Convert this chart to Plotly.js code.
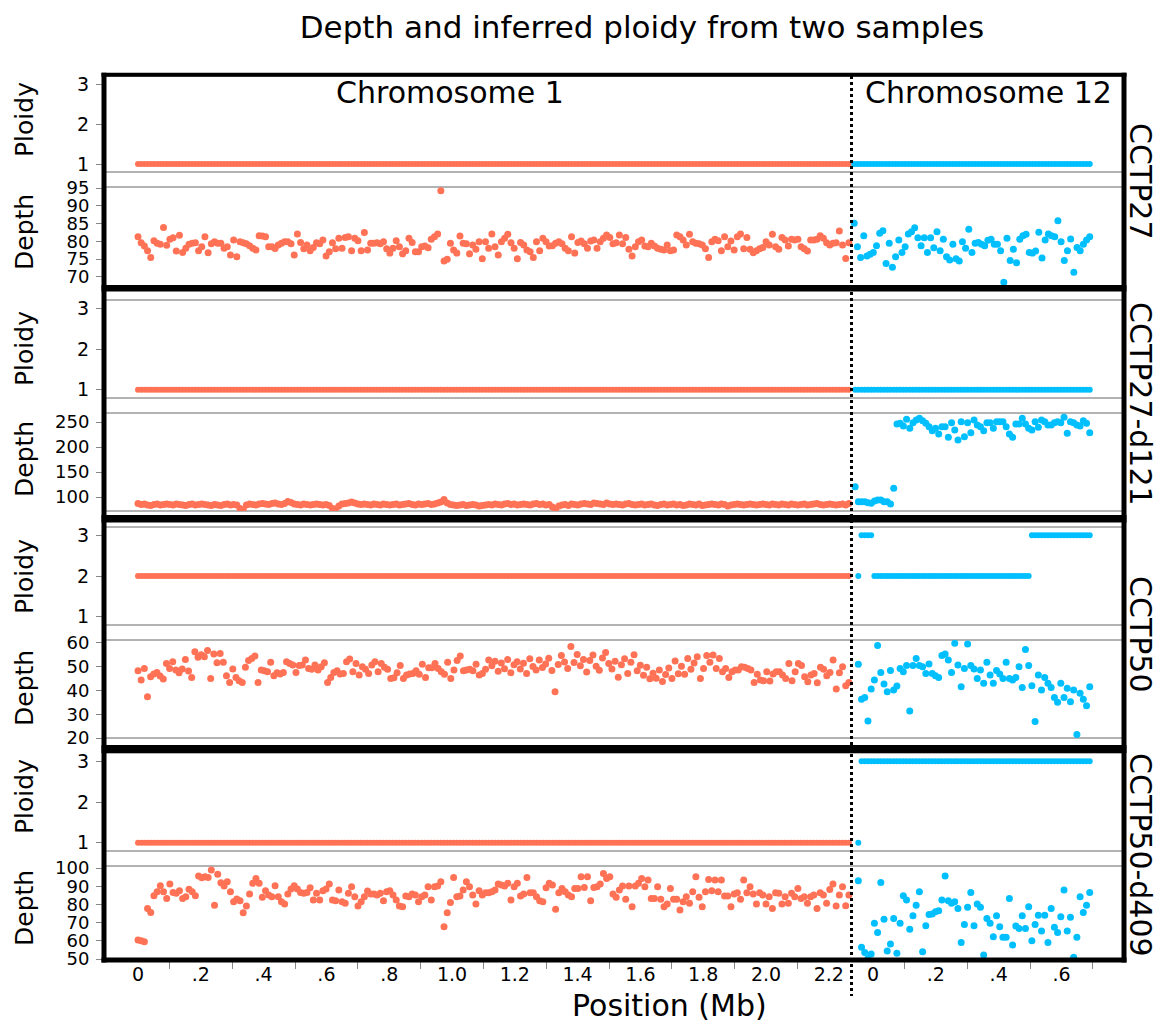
<!DOCTYPE html>
<html><head><meta charset="utf-8">
<script src="https://cdn.plot.ly/plotly-3.0.1.min.js"></script>
<style>html,body{margin:0;padding:0;background:#fff}#chart{width:1164px;height:1024px}</style>
</head><body><div id="chart"></div>
<script>
// ---------------- data ----------------
const samples = ['CCTP27', 'CCTP27-d121', 'CCTP50', 'CCTP50-d409'];

// chromosome 1 bins (Mb) : first and last bin centre
const chr1First = 0.0, chr1Last = 2.264;
// chromosome 12 bins, relative to chromosome-12 zero tick
const chr12Zero = 2.341;            // where "0" of chr12 sits on the shared axis
const chr12First = [-0.060, -0.057, -0.047, -0.047];
const chr12Last = 0.690;

const chr1TickVals = [0, 0.2, 0.4, 0.6, 0.8, 1.0, 1.2, 1.4, 1.6, 1.8, 2.0, 2.2];
const chr1TickText = ['0', '.2', '.4', '.6', '.8', '1.0', '1.2', '1.4', '1.6', '1.8', '2.0', '2.2'];
const chr12TickVals = [0, 0.2, 0.4, 0.6];
const chr12TickText = ['0', '.2', '.4', '.6'];
const chr1MinorTicks = [0.1, 0.3, 0.5, 0.7, 0.9, 1.1, 1.3, 1.5, 1.7, 1.9, 2.1];
const chr12MinorTicks = [0.1, 0.3, 0.5, 0.7];

const ploidyTicks = [1, 2, 3];
const depthTicks = [
  [70, 75, 80, 85, 90, 95],
  [100, 150, 200, 250],
  [20, 30, 40, 50, 60],
  [50, 60, 70, 80, 90, 100]
];

// ploidy as runs: [count, value]; count null = rest of the bins
const chr1PloidyRuns = [[[null, 1]], [[null, 1]], [[null, 2]], [[null, 1]]];
const chr12PloidyRuns = [[[null, 1]], [[null, 1]], [[1, 2], [4, 3], [49, 2], [null, 3]], [[1, 1], [null, 3]]];

const depthChr1_CCTP27 = [
81.3,79.6,78.7,77.4,75.5,80.2,79.5,79.2,83.9,78.9,
80.6,81.0,77.3,81.7,76.9,78.1,79.2,79.5,79.6,77.4,
78.5,81.3,76.8,79.3,79.9,79.5,79.5,78.1,78.5,76.2,
80.4,75.7,79.9,79.6,79.3,78.8,78.1,77.6,81.6,81.5,
81.3,78.5,78.5,78.0,79.0,79.5,79.9,79.9,79.3,76.2,
82.1,79.7,77.9,79.0,77.4,78.3,79.6,79.3,80.4,75.9,
77.1,79.6,77.9,80.9,78.1,81.1,81.3,77.4,80.9,80.2,
77.4,82.5,77.6,79.5,79.5,79.6,79.3,79.9,77.9,76.7,
78.1,80.2,78.5,76.5,77.4,80.9,79.7,77.1,77.1,78.5,
78.7,78.2,80.6,81.3,82.1,94.2,74.5,75.0,79.5,77.6,
76.7,81.5,79.5,79.3,76.5,79.0,77.8,79.9,75.1,79.9,
78.1,82.1,78.5,
76.2,79.9,80.9,82.0,79.6,78.1,75.1,79.7,79.0,77.6,
77.1,75.5,79.9,77.4,80.9,79.9,78.7,78.8,79.5,79.9,
79.3,78.1,77.4,81.3,76.7,79.7,80.1,79.3,78.1,80.1,
80.4,78.1,79.9,80.9,81.8,81.1,79.3,79.6,81.8,79.3,
81.1,77.8,75.9,78.5,79.9,80.4,78.7,78.5,79.5,78.7,
78.1,77.8,77.6,79.0,77.4,77.6,81.8,81.3,80.4,79.0,
82.0,79.9,79.5,79.3,79.0,77.9,75.5,79.9,80.6,80.2,
77.4,81.3,78.5,80.1,77.6,81.3,82.1,77.9,81.1,77.8,
76.8,77.4,77.9,78.3,79.9,79.0,82.0,78.5,77.8,81.1,
80.4,78.7,80.6,80.4,80.6,78.5,77.9,77.3,80.4,80.4,
80.6,81.6,80.9,79.6,79.0,79.5,79.6,82.9,79.0,75.2,
79.6];
const depthChr12_CCTP27 = [
85.1,78.5,75.5,81.6,75.9,76.4,76.9,78.8,82.3,83.0,
73.8,79.5,72.7,75.7,80.4,76.9,78.5,82.1,82.7,83.8,
81.0,78.8,81.0,76.9,81.0,78.2,82.7,77.4,80.6,75.7,
74.8,79.2,75.1,74.5,79.9,78.1,83.4,76.9,79.5,79.7,
79.2,78.8,80.3,80.6,79.2,79.2,77.4,68.5,80.9,74.6,
77.8,74.0,80.6,81.6,82.0,76.9,76.7,77.3,82.6,75.3,
80.4,82.1,81.6,81.3,85.8,79.9,74.6,77.4,80.7,71.3,
78.3,77.4,79.2,80.4,81.3];

const depthChr1_CCTP27d121 = [
87,85,86,84,83,85,86,84,85,86,
85,84,86,85,84,83,85,86,84,85,
86,85,84,83,85,84,83,85,86,84,
85,84,77,75,84,86,85,84,86,87,
86,85,87,88,86,85,87,91,89,86,
85,84,86,85,84,85,86,85,84,85,
83,77,76,82,86,87,88,90,88,86,
85,86,85,84,86,85,84,86,85,84,
85,86,84,85,86,87,85,84,86,85,
86,87,85,86,88,90,95,88,85,84,
83,84,85,83,84,85,84,82,83,84,
85,84,86,85,84,86,87,85,86,84,
85,86,85,84,86,87,85,86,84,85,
80,76,82,84,85,83,86,85,84,86,
87,86,85,88,87,86,85,88,86,85,
86,85,84,86,87,85,84,85,86,84,
85,86,84,83,85,86,84,85,86,84,
85,83,84,86,85,84,86,83,84,85,
86,85,84,86,85,82,84,85,86,85,
84,85,86,85,84,85,86,85,84,86,
85,84,86,85,84,86,85,84,85,86,
84,85,86,87,85,84,85,86,85,84,
85,86,84,87];
const depthChr12_CCTP27d121 = [
120.7,90.7,90.7,90.7,88.7,87.3,92.0,94.0,94.0,90.7,90.7,86.0,117.3,
246.0,247.3,242.0,255.3,237.3,248.7,254.0,257.3,252.7,247.3,
240.7,232.7,237.3,226.0,240.7,240.7,219.3,248.7,234.0,214.0,
250.7,220.7,248.7,228.7,254.0,244.0,240.7,232.7,248.7,248.7,
237.3,250.7,250.7,250.7,240.7,226.0,219.3,246.0,246.0,257.3,
246.0,237.3,234.0,250.7,239.3,254.0,250.7,244.0,244.0,248.7,
250.7,248.7,259.3,227.3,250.7,248.7,244.0,242.0,252.7,247.3,228.7];

const depthChr1_CCTP50 = [
48.3,44.4,49.3,37.4,45.8,46.9,47.6,46.1,44.8,51.4,
49.3,52.1,48.6,47.5,49.0,53.1,48.2,45.5,56.3,54.0,
55.0,54.2,56.8,45.1,55.4,51.7,55.6,51.9,46.2,43.4,
49.0,45.5,44.1,43.4,49.8,52.6,53.5,54.5,43.4,48.6,
48.3,47.9,51.9,46.2,47.5,46.9,47.6,52.1,51.4,50.7,
47.6,50.5,50.7,52.8,49.3,48.9,50.7,48.6,50.0,51.7,
43.4,45.5,47.6,48.3,46.9,47.2,52.1,53.3,47.9,51.4,
46.5,50.0,48.9,47.2,50.7,52.1,47.9,51.4,49.8,48.9,
45.1,45.4,47.5,50.5,45.1,46.5,46.9,47.2,48.3,46.8,
51.0,45.5,49.6,49.6,51.4,49.3,47.9,46.8,51.9,45.1,
48.6,52.6,54.5,48.3,48.6,48.9,48.3,51.0,46.5,47.2,
48.9,52.8,
50.4,52.3,48.1,51.6,49.2,53.0,47.5,50.8,52.1,49.0,
51.5,47.2,53.4,50.1,48.6,52.8,49.7,51.2,53.6,48.4,
39.5,50.9,54.7,52.0,49.3,58.5,51.8,55.2,50.4,53.1,
47.8,52.6,54.9,50.2,48.5,53.7,56.0,51.4,49.0,52.3,
45.6,50.8,53.4,47.2,51.9,55.1,48.3,50.6,46.4,49.8,
44.9,47.3,45.2,48.6,43.8,46.7,49.5,45.0,52.4,47.1,
50.2,46.8,53.5,48.9,51.6,
54.2,45.1,49.3,54.7,51.9,54.9,49.3,53.5,47.9,49.3,
45.5,47.9,48.6,48.6,50.0,49.8,49.3,48.6,43.4,46.8,
44.4,44.1,47.9,44.0,46.9,47.9,47.9,46.5,45.1,51.4,
44.1,47.9,51.4,50.5,45.8,43.7,46.5,47.2,43.3,49.8,
48.9,46.2,47.6,52.8,40.6,47.5,50.0,42.0,43.4];
const depthChr12_CCTP50 = [
51.0,36.3,37.1,27.2,40.6,44.4,58.9,47.6,42.7,39.5,
48.4,40.2,41.9,49.3,47.9,50.5,31.4,50.5,53.5,50.5,
50.0,47.2,51.2,47.2,46.2,45.5,54.7,55.4,52.8,47.6,
59.9,50.7,41.6,49.3,59.6,50.5,49.1,45.1,48.6,43.0,
51.9,46.5,43.0,48.4,46.9,45.1,51.9,45.1,44.4,45.5,
50.0,41.3,57.3,50.5,42.0,26.9,46.5,40.2,45.5,43.0,
41.3,37.1,35.0,43.0,37.0,40.9,35.3,40.2,21.5,38.8,
36.3,33.6,41.6];

const depthChr1_CCTP50d409 = [
60.4,60.0,59.5,77.8,75.6,84.8,87.0,90.3,87.0,83.3,
91.2,86.6,86.1,87.5,83.3,84.2,88.3,87.0,84.8,95.6,
94.7,95.2,94.8,98.9,79.6,96.5,91.9,90.1,92.5,87.0,
81.5,83.0,82.0,75.4,79.1,85.7,91.6,94.3,91.6,83.9,
87.5,85.1,84.2,90.3,84.2,81.5,80.2,85.7,88.4,90.3,
88.4,86.6,86.1,86.6,89.2,82.4,86.1,82.4,87.5,88.4,
91.2,82.4,82.0,87.9,81.5,80.6,86.1,89.7,84.2,79.1,
81.5,84.2,87.3,85.7,85.7,85.1,86.1,82.0,87.0,87.5,
85.1,82.4,79.1,
78.7,84.6,84.2,85.7,85.1,81.5,84.2,85.1,89.7,82.4,
89.7,90.1,92.5,67.7,75.4,81.1,94.8,84.2,84.6,87.9,
92.5,89.7,85.1,80.2,87.5,85.1,86.4,86.4,87.0,87.9,
91.2,90.6,90.1,91.6,82.4,89.7,91.6,84.6,85.7,94.8,
86.4,86.4,84.2,82.0,81.5,89.2,91.6,90.6,77.3,86.4,
88.8,87.0,85.1,84.2,88.8,88.8,95.2,89.3,95.2,82.0,
89.3,89.7,91.2,97.0,94.3,95.2,85.7,83.9,87.9,90.1,
82.8,90.1,78.7,90.1,91.6,94.3,89.7,93.4,83.3,83.3,
89.7,82.8,78.7,80.2,88.8,82.8,82.8,76.9,81.5,84.2,
80.6,87.0,95.2,83.9,78.7,87.0,93.7,87.5,93.4,87.0,
93.4,84.6,84.6,78.7,85.7,86.4,82.8,93.4,86.4,89.7,
85.7,80.2,86.4,85.1,80.2,84.2,77.8,86.4,
86.1,80.2,84.2,80.6,86.1,84.2,88.8,83.3,84.2,80.6,
84.2,85.1,77.8,86.4,85.1,80.6,88.2,91.2,79.1,85.1,
89.7,79.3,85.1];
const depthChr12_CCTP50d409 = [
93.0,56.4,53.6,50.3,52.7,69.6,64.6,92.1,71.8,54.4,
58.2,72.3,53.1,69.6,84.8,82.4,66.3,73.8,79.6,87.0,
54.0,68.3,74.5,74.7,76.0,76.5,82.4,95.6,82.0,80.6,
81.5,77.8,59.1,69.0,78.4,86.6,68.3,80.2,78.4,52.2,
72.3,69.6,62.2,73.8,67.7,61.9,61.9,83.3,57.7,68.1,
66.8,73.8,66.8,78.7,60.0,69.0,74.1,65.4,74.1,59.1,
77.8,67.4,64.6,73.2,87.9,65.4,72.9,50.9,61.9,84.2,
75.6,79.6,86.6];

const depthChr1 = [depthChr1_CCTP27, depthChr1_CCTP27d121, depthChr1_CCTP50, depthChr1_CCTP50d409];
const depthChr12 = [depthChr12_CCTP27, depthChr12_CCTP27d121, depthChr12_CCTP50, depthChr12_CCTP50d409];

// ---------------- layout geometry (pixels) ----------------
const W = 1164, H = 1024;
const plotLeft = 104, plotRight = 1124;
const pxPerMb = 314, px0 = 138;
const ploidyBox = [[76, 172], [300, 398], [527, 625], [753, 851]];
const depthBox = [[187, 288], [413, 511], [640, 738], [866, 960]];
const ploidyRange = [0.8, 3.2];
const depthRange = [[66.9, 95.28], [72, 268], [20, 61.26], [49.45, 101.1]];
const panelEdges = [[74.7, 4], [288.3, 6.5], [518.8, 7.5], [749, 8], [960, 5]];

const RED = '#FF7256', BLUE = '#00BFFF';
const FONT = 'DejaVu Sans';

const px2x = p => p / W;
const px2y = p => 1 - p / H;
const mbOfPx = p => (p - px0) / pxPerMb;

function linspace(a, b, n) {
  const out = [];
  for (let i = 0; i < n; i++) out.push(n === 1 ? a : a + (b - a) * i / (n - 1));
  return out;
}
function expandRuns(runs, n) {
  const out = [];
  let used = 0;
  runs.forEach(r => used += (r[0] === null ? 0 : r[0]));
  runs.forEach(([c, v]) => {
    const cnt = c === null ? n - used : c;
    for (let i = 0; i < cnt; i++) out.push(v);
  });
  return out;
}

const traces = [];
const layout = {
  width: W, height: H,
  margin: {l: 0, r: 0, t: 0, b: 0},
  paper_bgcolor: '#fff', plot_bgcolor: '#fff',
  showlegend: false,
  font: {family: FONT, color: '#000'},
  title: {text: 'Depth and inferred ploidy from two samples', font: {family: FONT, size: 31, color: '#000'},
          x: 642 / W, xanchor: 'center', y: 1 - 27 / H, yanchor: 'middle'},
  shapes: [], annotations: []
};

layout.xaxis = {
  domain: [px2x(plotLeft), px2x(plotRight)],
  range: [mbOfPx(plotLeft), mbOfPx(plotRight)],
  anchor: 'y8',
  showgrid: false, zeroline: false,
  showline: true, linecolor: '#888', linewidth: 1,
  tickmode: 'array',
  tickvals: chr1TickVals.concat(chr12TickVals.map(v => v + chr12Zero)),
  ticktext: chr1TickText.concat(chr12TickText),
  ticks: 'outside', ticklen: 1, tickcolor: 'rgba(0,0,0,0)',
  ticklabelstandoff: -4,
  tickfont: {family: FONT, size: 19, color: '#000'},
  minor: {tickmode: 'array', tickvals: chr1MinorTicks.concat(chr12MinorTicks.map(v => v + chr12Zero)),
          ticks: 'outside', ticklen: 8, tickcolor: '#888', tickwidth: 1, showgrid: false},
  fixedrange: true
};

for (let k = 0; k < 4; k++) {
  const yp = 2 * k + 1, yd = 2 * k + 2;
  const n1 = depthChr1[k].length, n12 = depthChr12[k].length;
  const x1 = linspace(chr1First, chr1Last, n1);
  const x12 = linspace(chr12First[k], chr12Last, n12).map(v => v + chr12Zero);

  const yaxBase = {anchor: 'x', showgrid: false, zeroline: false, showline: false,
    ticks: 'outside', ticklen: 7, tickcolor: '#888', tickwidth: 1,
    tickfont: {family: FONT, size: 19, color: '#000'}, tickmode: 'array', fixedrange: true,
    ticklabelstandoff: 3};
  layout['yaxis' + yp] = Object.assign({}, yaxBase, {
    domain: [px2y(ploidyBox[k][1]), px2y(ploidyBox[k][0])], range: ploidyRange, tickvals: ploidyTicks});
  layout['yaxis' + yd] = Object.assign({}, yaxBase, {
    domain: [px2y(depthBox[k][1]), px2y(depthBox[k][0])], range: depthRange[k], tickvals: depthTicks[k],
    tickfont: {family: FONT, size: 18, color: '#000'}});

  traces.push({type: 'scatter', mode: 'markers', x: x1, y: expandRuns(chr1PloidyRuns[k], n1),
    xaxis: 'x', yaxis: 'y' + yp, marker: {color: RED, size: 6}, hoverinfo: 'skip'});
  traces.push({type: 'scatter', mode: 'markers', x: x12, y: expandRuns(chr12PloidyRuns[k], n12),
    xaxis: 'x', yaxis: 'y' + yp, marker: {color: BLUE, size: 6}, hoverinfo: 'skip'});
  traces.push({type: 'scatter', mode: 'markers', x: x1, y: depthChr1[k],
    xaxis: 'x', yaxis: 'y' + yd, marker: {color: RED, size: 7}, hoverinfo: 'skip'});
  traces.push({type: 'scatter', mode: 'markers', x: x12, y: depthChr12[k],
    xaxis: 'x', yaxis: 'y' + yd, marker: {color: BLUE, size: 7}, hoverinfo: 'skip'});

  // thin plot-region lines
  [ploidyBox[k][0], ploidyBox[k][1], depthBox[k][0], depthBox[k][1]].forEach(p => {
    layout.shapes.push({type: 'line', xref: 'paper', yref: 'paper', layer: 'below',
      x0: px2x(plotLeft), x1: px2x(plotRight), y0: px2y(p), y1: px2y(p),
      line: {color: '#666', width: 1}});
  });

  // labels
  const pc = [120, 349, 577, 797][k], dc = [232, 459, 688, 908][k], sc = [181, 404, 634, 855][k];
  layout.annotations.push({text: 'Ploidy', xref: 'paper', yref: 'paper', x: px2x(24), y: px2y(pc),
    xanchor: 'center', yanchor: 'middle', textangle: -90, showarrow: false, font: {family: FONT, size: 25, color: '#000'}});
  layout.annotations.push({text: 'Depth', xref: 'paper', yref: 'paper', x: px2x(24), y: px2y(dc),
    xanchor: 'center', yanchor: 'middle', textangle: -90, showarrow: false, font: {family: FONT, size: 25, color: '#000'}});
  layout.annotations.push({text: samples[k], xref: 'paper', yref: 'paper', x: px2x(1141), y: px2y(sc),
    xanchor: 'center', yanchor: 'middle', textangle: 90, showarrow: false, font: {family: FONT, size: 30, color: '#000'}});
}

// thick panel borders
panelEdges.forEach(([p, w]) => {
  layout.shapes.push({type: 'line', xref: 'paper', yref: 'paper', x0: px2x(plotLeft - 2.5), x1: px2x(plotRight + 2.5),
    y0: px2y(p), y1: px2y(p), line: {color: '#000', width: w}});
});
[plotLeft, plotRight].forEach(p => {
  layout.shapes.push({type: 'line', xref: 'paper', yref: 'paper', x0: px2x(p), x1: px2x(p),
    y0: px2y(72.7), y1: px2y(962.5), line: {color: '#000', width: 5}});
});
// chromosome boundary
layout.shapes.push({type: 'line', xref: 'x', yref: 'paper', x0: mbOfPx(851.5), x1: mbOfPx(851.5),
  y0: px2y(76), y1: px2y(996), line: {color: '#000', width: 3, dash: 'dot'}});

layout.annotations.push({text: 'Chromosome 1', xref: 'paper', yref: 'paper', x: px2x(450), y: px2y(92),
  xanchor: 'center', yanchor: 'middle', showarrow: false, font: {family: FONT, size: 30, color: '#000'}});
layout.annotations.push({text: 'Chromosome 12', xref: 'paper', yref: 'paper', x: px2x(988), y: px2y(92),
  xanchor: 'center', yanchor: 'middle', showarrow: false, font: {family: FONT, size: 30, color: '#000'}});
layout.annotations.push({text: 'Position (Mb)', xref: 'paper', yref: 'paper', x: px2x(669), y: px2y(1005),
  xanchor: 'center', yanchor: 'middle', showarrow: false, font: {family: FONT, size: 30, color: '#000'}});

Plotly.newPlot('chart', traces, layout, {staticPlot: true, displayModeBar: false});
</script>
</body></html>
